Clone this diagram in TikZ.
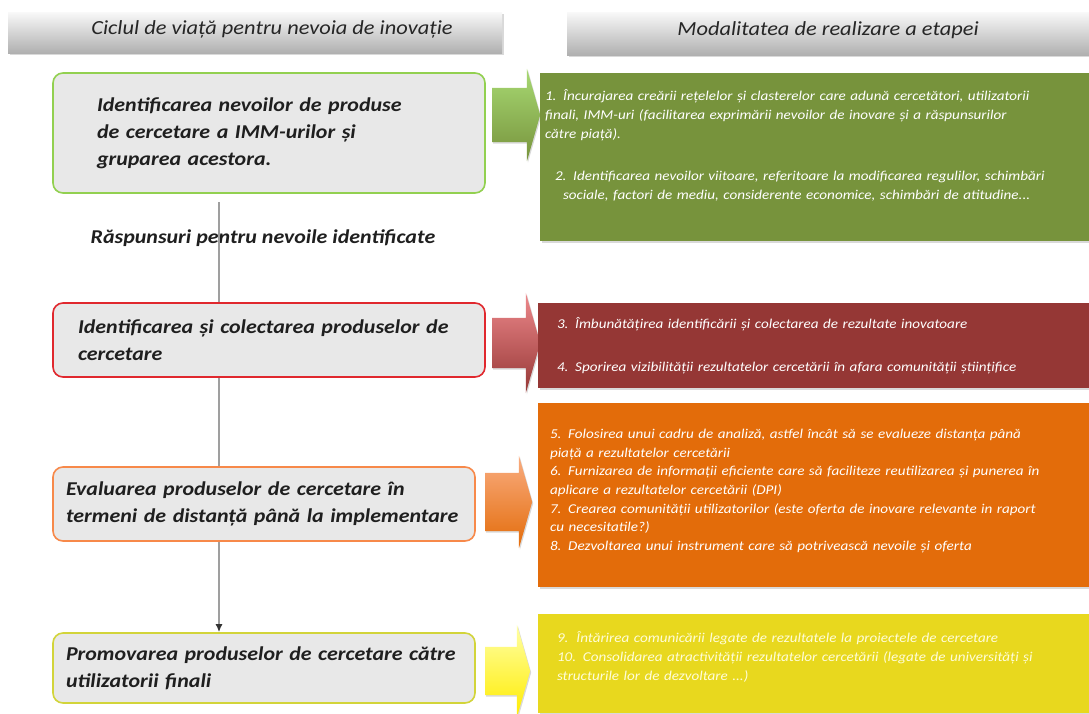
\documentclass[tikz,border=0pt]{standalone}
\usepackage{fontspec}
\setmainfont{Carlito}[FakeStretch=1.12]
\usepackage{xcolor}
\usetikzlibrary{shapes.arrows,shadows,arrows.meta}

\definecolor{needgreen}{HTML}{92D050}
\definecolor{needred}{HTML}{E0282E}
\definecolor{needorange}{HTML}{F7894A}
\definecolor{needyellow}{HTML}{D2D43A}
\definecolor{waygreen}{HTML}{77933C}
\definecolor{wayred}{HTML}{953735}
\definecolor{wayorange}{HTML}{E36C0A}
\definecolor{wayyellow}{HTML}{E8D81E}

\begin{document}
\begin{tikzpicture}[x=1pt, y=-1pt, >={Latex[length=8pt, width=7pt, color=black!80]},
  bar/.style={top color=gray!5, bottom color=gray!62, inner sep=0pt, drop shadow={shadow xshift=2pt, shadow yshift=-2pt, opacity=0.3}, font=\fontsize{20}{22}\selectfont\itshape, text=black!85},
  stage/.style={draw, line width=1.6pt, rounded corners=10pt, fill=gray!18, align=left, inner ysep=0pt, font=\fontsize{19.6}{27}\selectfont\bfseries\itshape, text=black!88},
  way/.style={inner ysep=0pt, align=left, font=\fontsize{13.5}{19}\selectfont\itshape, text=white, drop shadow={shadow xshift=1.5pt, shadow yshift=-1.5pt, opacity=0.3}},
  push/.style={single arrow, single arrow tip angle=148, inner xsep=0pt, minimum height=48pt, anchor=tail, drop shadow={shadow xshift=1pt, shadow yshift=-1.5pt, opacity=0.3}},
  flow/.style={draw=gray!75, line width=2pt}]
\useasboundingbox (0,0) rectangle (1089,713);
\node[bar, minimum width=494pt, minimum height=41pt] (hl) at (255,32.5) {\hspace*{34pt}Ciclul de viață pentru nevoia de inovație\rule[-9pt]{0pt}{1pt}};
\node[bar, minimum width=522pt, minimum height=43pt] (hr) at (828,33.5) {Modalitatea de realizare a etapei\rule[-9pt]{0pt}{1pt}};
\node[stage, draw=needgreen, text width=344pt, inner xsep=44pt, minimum height=120pt] (b1) at (269,133) {Identificarea nevoilor de produse\\de cercetare a IMM-urilor și\\gruparea acestora.};
\node[stage, draw=needred, text width=382pt, inner xsep=25pt, minimum height=74pt] (b2) at (269,340) {Identificarea și colectarea produselor de\\cercetare};
\node[stage, draw=needorange, text width=396pt, inner xsep=13pt, minimum height=74pt] (b3) at (264,504) {Evaluarea produselor de cercetare în\\termeni de distanță până la implementare};
\node[stage, draw=needyellow, text width=396pt, inner xsep=13pt, minimum height=70pt] (b4) at (264,668) {Promovarea produselor de cercetare către\\utilizatorii finali};
\node[font=\fontsize{19.6}{22}\selectfont\bfseries\itshape, text=black!88] (resp) at (263,238) {Răspunsuri pentru nevoile identificate};
\coordinate (top) at (219,202);
\draw[flow] (top) -- (top |- b2.north);
\draw[flow] (top |- b2.south) -- (top |- b3.north);
\draw[flow, ->] (top |- b3.south) -- (top |- b4.north);
\node[push, top color=needgreen!80!white, bottom color=waygreen, inner ysep=27pt, single arrow head extend=19pt] (a1) at (492,115) {};
\node[push, top color=needred!55!white, bottom color=wayred, inner ysep=25pt, single arrow head extend=25pt] (a2) at (492,343) {};
\node[push, top color=needorange!70!white, bottom color=wayorange, inner ysep=29pt, single arrow head extend=17pt, minimum height=47pt] (a3) at (485,502) {};
\node[push, top color=yellow!35!white, bottom color=yellow!85!orange, inner ysep=24pt, single arrow head extend=22pt, minimum height=45pt] (a4) at (485,671) {};
\node[way, fill=waygreen, text width=539pt, inner xsep=5pt, minimum height=168pt] (w1) at (814.5,157) {1. Încurajarea creării rețelelor și clasterelor care adună cercetători, utilizatorii\\finali, IMM-uri (facilitarea exprimării nevoilor de  inovare și a răspunsurilor\\către piață).\\[23pt]\hspace*{10pt}2. Identificarea nevoilor viitoare, referitoare la modificarea regulilor, schimbări\\\hspace*{18pt}sociale, factori de mediu, considerente economice, schimbări de atitudine...\par\vspace*{24pt}};
\node[way, fill=wayred, text width=513pt, inner xsep=19pt, minimum height=85pt] (w2) at (813.5,345.5) {3. Îmbunătățirea identificării și colectarea de rezultate inovatoare\\[24pt]4. Sporirea vizibilității rezultatelor cercetării în afara comunității științifice};
\node[way, fill=wayorange, text width=527pt, inner xsep=12pt, minimum height=184pt, font=\fontsize{13.5}{18.7}\selectfont\itshape] (w3) at (813.5,495) {5. Folosirea unui cadru de analiză, astfel încât să se evalueze distanța până\\piață a rezultatelor cercetării\\6. Furnizarea de informații eficiente care să faciliteze reutilizarea și punerea în\\aplicare a rezultatelor cercetării (DPI)\\7. Crearea comunității  utilizatorilor (este oferta de inovare relevante in raport\\cu necesitatile?)\\8. Dezvoltarea unui instrument care să  potrivească nevoile și oferta\par\vspace*{8pt}};
\node[way, fill=wayyellow, text=white!85!yellow, text width=513pt, inner xsep=19pt, minimum height=99pt] (w4) at (813.5,663.5) {9.\hspace{8pt}Întărirea comunicării legate de rezultatele la proiectele  de cercetare\\10. Consolidarea atractivității rezultatelor cercetării (legate de universități și\\structurile lor de dezvoltare ...)\par\vspace*{14pt}};
\end{tikzpicture}
\end{document}
